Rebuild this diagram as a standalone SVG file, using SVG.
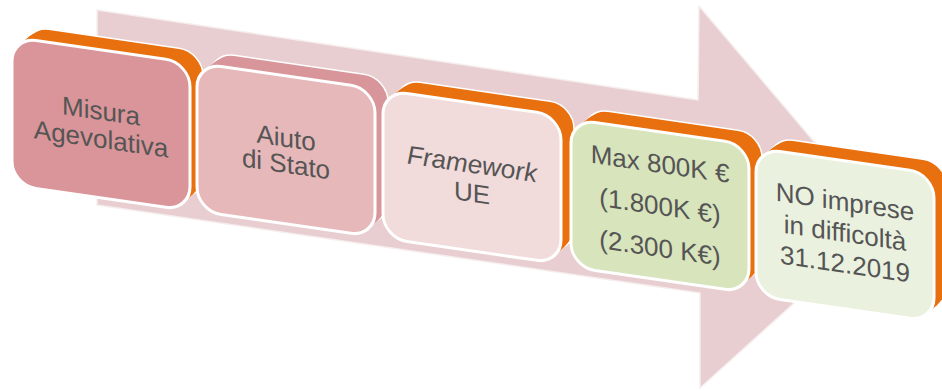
<svg xmlns="http://www.w3.org/2000/svg" width="942" height="391" viewBox="0 0 942 391">
<style>
.t{font-family:"Liberation Sans",Arial,sans-serif;font-size:26px;fill:#555555;text-anchor:middle}
.it{font-style:italic}
.front{stroke:#ffffff;stroke-width:3}
.back{stroke:#ffffff;stroke-width:1.5}
.or{fill:#e8700f}
.pk{fill:#d8969b}
.arrow{fill:#e8ced0;stroke:#f6eeee;stroke-width:1.5;stroke-linejoin:round}
</style>
<defs>
<rect id="face" width="178" height="148" rx="24" ry="24"/>
<g id="depth">
<use href="#face" class="back" x="13" y="-13"/>
<use href="#face" x="9.75" y="-9.75"/>
<use href="#face" x="6.5" y="-6.5"/>
<use href="#face" x="3.25" y="-3.25"/>
</g>
</defs>
<g id="background-arrow">
<path class="arrow" d="M97,10 L698,100 L699,6 L883,223 L700,388 L700,293 L97,205 Z"/>
</g>
<g id="node1" transform="matrix(1,0.145,0,1,12,37)">
<use href="#depth" class="or"/>
<use href="#face" class="front" fill="#d99599"/>
<text class="t" x="89" y="70">Misura</text>
<text class="t" x="89" y="98">Agevolativa</text>
</g>
<g id="node2" transform="matrix(1,0.145,0,1,197,63)">
<use href="#depth" class="pk"/>
<use href="#face" class="front" fill="#e6b8ba"/>
<text class="t" x="89" y="71">Aiuto</text>
<text class="t" x="89" y="97">di Stato</text>
</g>
<g id="node3" transform="matrix(1,0.145,0,1,383,90)">
<use href="#depth" class="or"/>
<use href="#face" class="front" fill="#f2dbdb"/>
<text class="t it" x="89" y="70">Framework</text>
<text class="t" x="89" y="99">UE</text>
</g>
<g id="node4" transform="matrix(1,0.145,0,1,571,119)">
<use href="#depth" class="or"/>
<use href="#face" class="front" fill="#d8e4bc"/>
<text class="t" x="89" y="41">Max 800K €</text>
<text class="t" x="89" y="83">(1.800K €)</text>
<text class="t" x="89" y="125">(2.300 K€)</text>
</g>
<g id="node5" transform="matrix(1,0.145,0,1,756,148)">
<use href="#depth" class="or"/>
<use href="#face" class="front" fill="#ebf1df"/>
<text class="t" x="89" y="50">NO imprese</text>
<text class="t" x="89" y="81">in difficoltà</text>
<text class="t" x="89" y="112">31.12.2019</text>
</g>
</svg>
